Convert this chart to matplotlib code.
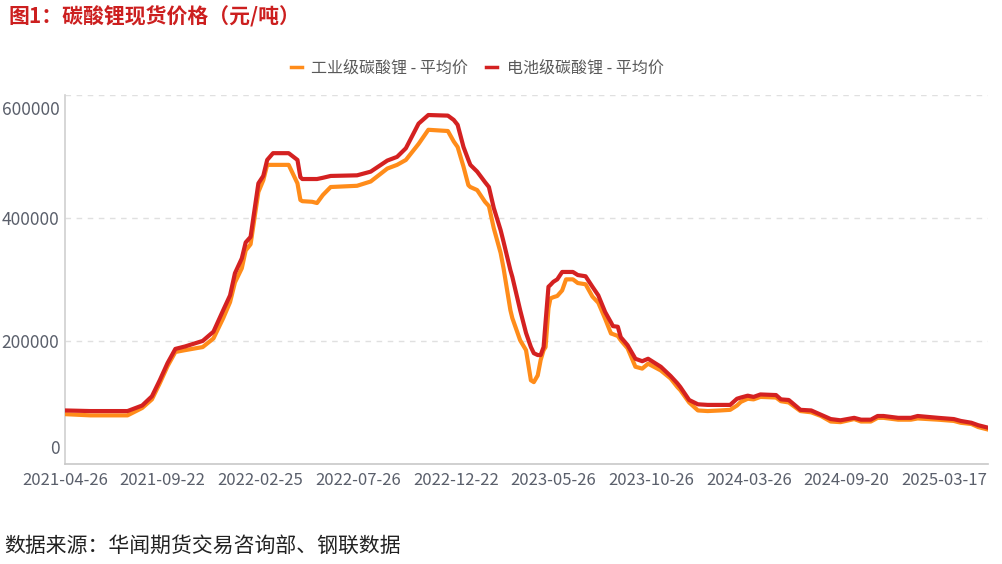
import matplotlib
matplotlib.use("Agg")
import matplotlib.pyplot as plt
from matplotlib.lines import Line2D
from matplotlib.transforms import ScaledTranslation

plt.rcParams['font.family'] = ['Noto Sans CJK SC', 'DejaVu Sans']

# ---- data (category index of trading day, prices in yuan/ton) ----
day_idx = [0, 26, 64, 79, 89, 97, 105, 113, 123, 141, 152, 162, 169, 174, 181, 185, 190,
           198, 203, 207, 213, 229, 238, 241, 243, 253, 258, 264, 272, 299, 313, 330, 340,
           349, 362, 372, 392, 398, 402, 408, 413, 415, 422, 430, 434, 439, 446, 449, 456,
           458, 466, 472, 477, 480, 484, 487, 490, 492, 495, 497, 500, 504, 509, 513, 520,
           525, 533, 540, 546, 553, 559, 561, 566, 569, 576, 584, 591, 597, 610, 620, 627,
           630, 639, 648, 658, 671, 681, 688, 692, 699, 705, 712, 728, 733, 741, 753, 764,
           774, 784, 794, 808, 815, 825, 832, 838, 853, 866, 873, 894, 910, 917, 928, 935, 945]

battery_k = [87, 86, 86, 95, 110, 136, 164, 187, 191, 200, 215, 250, 274, 310, 334, 360, 369,
             456, 468, 494, 505, 505, 494, 466, 463, 463, 463, 465, 468, 469, 475, 493, 499,
             513, 553, 567, 566, 559, 551, 515, 494, 486, 475, 458, 450, 416, 380, 361, 315,
             304, 250, 213, 190, 180, 177, 177, 190, 230, 288, 291, 296, 300, 312, 312, 312,
             307, 305, 288, 274, 247, 230, 224, 223, 206, 193, 171, 167, 171, 158, 143, 131,
             125, 104, 97, 96, 96, 96, 106, 108, 111, 109, 113, 112, 105, 104, 88, 87,
             80, 73, 71, 75, 72, 72, 78, 78, 75, 75, 78, 75, 73, 70, 67, 63, 59]

industrial_k = [81, 79, 79, 91, 105, 131, 159, 182, 185, 190, 204, 237, 263, 295, 318, 347, 357,
                442, 461, 486, 486, 486, 456, 429, 427, 426, 424, 437, 450, 452, 459, 480, 486,
                494, 520, 543, 541, 524, 515, 483, 453, 450, 445, 426, 419, 383, 343, 318, 250,
                237, 201, 185, 136, 133, 144, 169, 185, 190, 253, 269, 271, 273, 282, 300, 300,
                294, 292, 272, 262, 236, 212, 211, 208, 201, 188, 158, 155, 163, 152, 139, 125,
                120, 100, 87, 86, 87, 88, 95, 101, 106, 105, 109, 108, 102, 100, 86, 84,
                78, 69, 68, 73, 69, 69, 75, 75, 72, 72, 74, 72, 70, 67, 65, 60, 56]

tick_dates = ['2021-04-26', '2021-09-22', '2022-02-25', '2022-07-26', '2022-12-22',
              '2023-05-26', '2023-10-26', '2024-03-26', '2024-09-20', '2025-03-17']
tick_pos = [0, 100, 200, 300, 400, 500, 600, 700, 800, 900]

y_ticks = [0, 200000, 400000, 600000]
series_names = ['工业级碳酸锂 - 平均价', '电池级碳酸锂 - 平均价']
colors = ['#ff8c1a', '#d42121']

battery = [v * 1000 for v in battery_k]
industrial = [v * 1000 for v in industrial_k]

# ---- figure ----
fig = plt.figure(figsize=(10.02, 5.64), dpi=100)
ax = fig.add_axes([65 / 1002, 1 - 464 / 564, 923 / 1002, (464 - 94.7) / 564])

ax.plot(day_idx, industrial, color=colors[0], lw=3.0, solid_joinstyle='round', zorder=3)
ax.plot(day_idx, battery, color=colors[1], lw=3.0, solid_joinstyle='round', zorder=4)

ax.set_xlim(0, 945)
ax.set_ylim(0, 600000)

ax.set_yticks(y_ticks)
ax.set_yticklabels([str(v) for v in y_ticks])
ax.set_xticks(tick_pos)
ax.set_xticklabels(tick_dates)

ax.tick_params(axis='y', length=0, pad=4, labelsize=12.5, labelcolor='#5a5f6b')
ax.tick_params(axis='x', length=0, pad=6, labelsize=12, labelcolor='#5a5f6b')

# shift edge labels inside like the reference
ylabels = ax.get_yticklabels()
ylabels[0].set_transform(ylabels[0].get_transform() + ScaledTranslation(0, 0.17, fig.dpi_scale_trans))
ylabels[-1].set_transform(ylabels[-1].get_transform() + ScaledTranslation(0, -0.13, fig.dpi_scale_trans))

for yv in y_ticks[1:]:
    ax.axhline(yv, color='#e0e0e0', lw=1, ls=(0, (4, 4)), zorder=1)

for s in ['top', 'right']:
    ax.spines[s].set_visible(False)
ax.spines['left'].set_color('#d0d0d0')
ax.spines['bottom'].set_color('#c8c8c8')
ax.spines['left'].set_linewidth(1.2)
ax.spines['bottom'].set_linewidth(1.2)

# legend
handles = [Line2D([0], [0], color=c, lw=2.5) for c in colors]
leg = fig.legend(handles, series_names, loc='center', bbox_to_anchor=(0.476, 0.879),
                 ncol=2, frameon=False, handlelength=0.7, handletextpad=0.6,
                 columnspacing=1.1, fontsize=11.5)
for t in leg.get_texts():
    t.set_color('#595959')

# title and source
fig.text(8 / 1002, 1 - 17 / 564, '图1：碳酸锂现货价格（元/吨）', fontsize=15,
         fontweight='bold', color='#cc1f1f', ha='left', va='center')
fig.text(4 / 1002, 1 - 546 / 564, '数据来源：华闻期货交易咨询部、钢联数据', fontsize=15,
         color='#222222', ha='left', va='center')

fig.savefig('out.png', dpi=100)
